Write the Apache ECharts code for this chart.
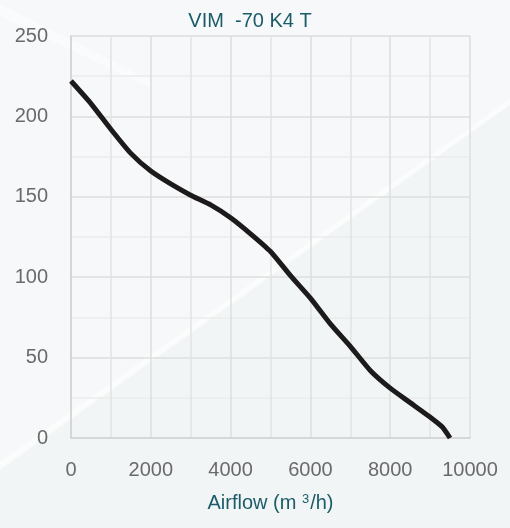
<!DOCTYPE html>
<html>
<head>
<meta charset="utf-8">
<script src="https://cdn.jsdelivr.net/npm/echarts@6/dist/echarts.min.js"></script>
<style>
  html, body { margin: 0; padding: 0; background: #f2f5f6; }
  #main { width: 510px; height: 528px; }
</style>
</head>
<body>
<div id="main"></div>
<script>
var chartDom = document.getElementById('main');
var myChart = echarts.init(chartDom, null, { width: 510, height: 528 });

// fan curve: airflow (m3/h) vs pressure
var airflow = [0, 500, 1000, 1500, 2000, 2500, 3000, 3500, 4000, 4500, 5000, 5500, 6000, 6500, 7000, 7500, 8000, 8500, 9000, 9300, 9500];
var pressure = [222, 208, 192, 177, 166, 158, 151, 145, 137, 127, 116, 101, 87, 71, 57, 42, 31, 22, 13, 7, 0];
var title = 'VIM  -70 K4 T';

var points = airflow.map(function (x, i) { return [x, pressure[i]]; });

var font = 'Liberation Sans';
var teal = '#1b5c68';

var option = {
    backgroundColor: '#f2f5f6',
    animation: false,
    graphic: [
        {
            type: 'polygon', z: -10, silent: true,
            shape: { points: [[0, 0], [510, 0], [510, 104], [0, 468]] },
            style: { fill: '#f6f8f9' }
        },
        {
            type: 'polygon', z: -9, silent: true,
            shape: { points: [[0, 462], [510, 99], [510, 105], [0, 470]] },
            style: { fill: 'rgba(255,255,255,0.55)' }
        },
        {
            type: 'polygon', z: -9, silent: true,
            shape: { points: [[0, 4], [0, 16], [150, 88], [150, 80]] },
            style: { fill: 'rgba(255,255,255,0.45)' }
        }
    ],
    title: {
        text: title,
        left: 245,
        top: 6,
        textAlign: 'center',
        textStyle: { color: teal, fontSize: 20, fontWeight: 'normal', fontFamily: font }
    },
    grid: { left: 71, right: 40, top: 36, bottom: 90 },
    xAxis: {
        type: 'value',
        min: 0,
        max: 10000,
        interval: 2000,
        name: '{a|Airflow (m }{s|3}{a|/h)}',
        nameLocation: 'middle',
        nameGap: 55,
        nameTextStyle: {
            rich: {
                a: { color: teal, fontSize: 20, fontFamily: font },
                s: { color: teal, fontSize: 13, fontFamily: font, verticalAlign: 'top', padding: [0, 1, 8, 0] }
            }
        },
        axisLine: { show: true, lineStyle: { color: '#d2d2d2', width: 1.5 } },
        axisTick: { show: false },
        axisLabel: {
            color: '#6a6a6a', fontSize: 20, margin: 22, fontFamily: font,
            formatter: function (v) { return String(v); }
        },
        splitLine: { show: true, lineStyle: { color: '#dedede', width: 1.5 } },
        minorTick: { show: false, splitNumber: 2 },
        minorSplitLine: { show: true, lineStyle: { color: '#e2e2e2', width: 1.5 } }
    },
    yAxis: {
        type: 'value',
        min: 0,
        max: 250,
        interval: 50,
        axisLine: { show: true, lineStyle: { color: '#d2d2d2', width: 1.5 } },
        axisTick: { show: false },
        axisLabel: { color: '#6a6a6a', fontSize: 20, margin: 23, fontFamily: font },
        splitLine: { show: true, lineStyle: { color: '#dedede', width: 1.5 } },
        minorTick: { show: false, splitNumber: 2 },
        minorSplitLine: { show: true, lineStyle: { color: '#ebebeb', width: 1.5 } }
    },
    series: [
        {
            type: 'line',
            data: points,
            smooth: 0.2,
            showSymbol: false,
            lineStyle: { color: '#1c1a1a', width: 5 }
        }
    ]
};

option && myChart.setOption(option);
</script>
</body>
</html>
